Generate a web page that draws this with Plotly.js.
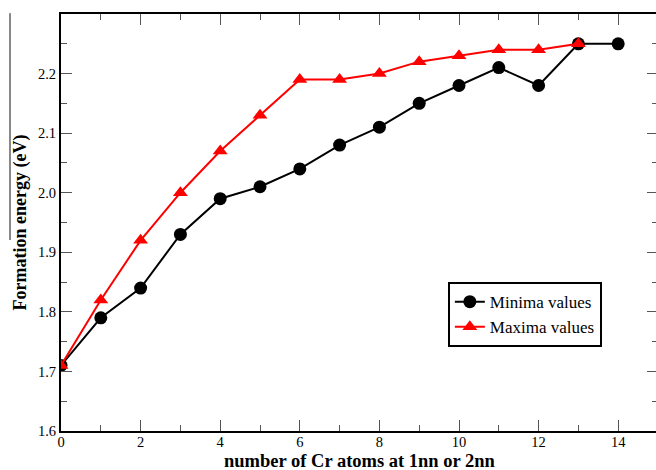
<!DOCTYPE html>
<html>
<head>
<meta charset="utf-8">
<script src="https://cdn.plot.ly/plotly-3.0.1.min.js"></script>
<style>
html,body{margin:0;padding:0;overflow:hidden;background:#fff;}
#chart{width:660px;height:470px;}
</style>
</head>
<body>
<div id="chart"></div>
<script>
const xMin = [0,1,2,3,4,5,6,7,8,9,10,11,12,13,14];
const minimaValues = [1.71,1.79,1.84,1.93,1.99,2.01,2.04,2.08,2.11,2.15,2.18,2.21,2.18,2.25,2.25];
const xMax = [0,1,2,3,4,5,6,7,8,9,10,11,12,13];
const maximaValues = [1.71,1.82,1.92,2.00,2.07,2.13,2.19,2.19,2.20,2.22,2.23,2.24,2.24,2.25];
const seriesNames = ["Minima values","Maxima values"];
const xTickVals = [0,2,4,6,8,10,12,14];
const yTickVals = [1.6,1.7,1.8,1.9,2.0,2.1,2.2];
const xTitle = "number of Cr atoms at 1nn or 2nn";
const yTitle = "Formation energy (eV)";

const serif = '"Liberation Serif", "Times New Roman", serif';

const traces = [
  {
    x: xMin, y: minimaValues, name: seriesNames[0], type: 'scatter', mode: 'lines+markers',
    line: {color: '#000000', width: 2},
    marker: {symbol: 'circle', size: 13, color: '#000000'}
  },
  {
    x: xMax, y: maximaValues, name: seriesNames[1], type: 'scatter', mode: 'lines+markers',
    line: {color: '#ff0000', width: 2},
    marker: {symbol: 'triangle-up', size: 13, color: '#ff0000'}
  }
];

const axisCommon = {
  showline: true, linecolor: '#000000', linewidth: 2, mirror: 'ticks',
  ticks: 'inside', ticklen: 11, tickwidth: 1, tickcolor: '#555555',
  showgrid: false, zeroline: false,
  tickfont: {family: serif, size: 14.5, color: '#000000'}
};

const layout = {
  width: 660, height: 470,
  margin: {l: 61, r: 2, t: 14, b: 39},
  paper_bgcolor: '#ffffff', plot_bgcolor: '#ffffff',
  showlegend: true,
  font: {family: serif, color: '#000000'},
  xaxis: Object.assign({}, axisCommon, {
    range: [0, 15], tickvals: xTickVals, ticklabelstandoff: -3,
    minor: {dtick: 1, ticks: 'inside', ticklen: 6, tickwidth: 1, tickcolor: '#555555'}
  }),
  yaxis: Object.assign({}, axisCommon, {
    range: [1.6, 2.3], tickvals: yTickVals, tickformat: '.1f',
    minor: {dtick: 0.05, ticks: 'inside', ticklen: 6, tickwidth: 1, tickcolor: '#555555'},
    title: {text: '<b>' + yTitle + '</b>', font: {family: serif, size: 18, color: '#000000'}, standoff: 7}
  }),
  legend: {
    x: 0.648, y: 0.357, xanchor: 'left', yanchor: 'top',
    bordercolor: '#000000', borderwidth: 2, bgcolor: '#ffffff',
    font: {family: serif, size: 17, color: '#000000'}
  },
  annotations: [
    {text: '<b>' + xTitle + '</b>', xref: 'paper', yref: 'paper', x: 0.5, y: -0.1019,
     xanchor: 'center', yanchor: 'bottom', showarrow: false,
     font: {family: serif, size: 18.5, color: '#000000'}}
  ],
  shapes: [
    {type: 'line', xref: 'paper', yref: 'paper', x0: -0.0854, x1: -0.0854, y0: 1.002, y1: 0.458,
     line: {color: '#888888', width: 2}}
  ]
};

Plotly.newPlot('chart', traces, layout, {displayModeBar: false, staticPlot: true});
</script>
</body>
</html>
